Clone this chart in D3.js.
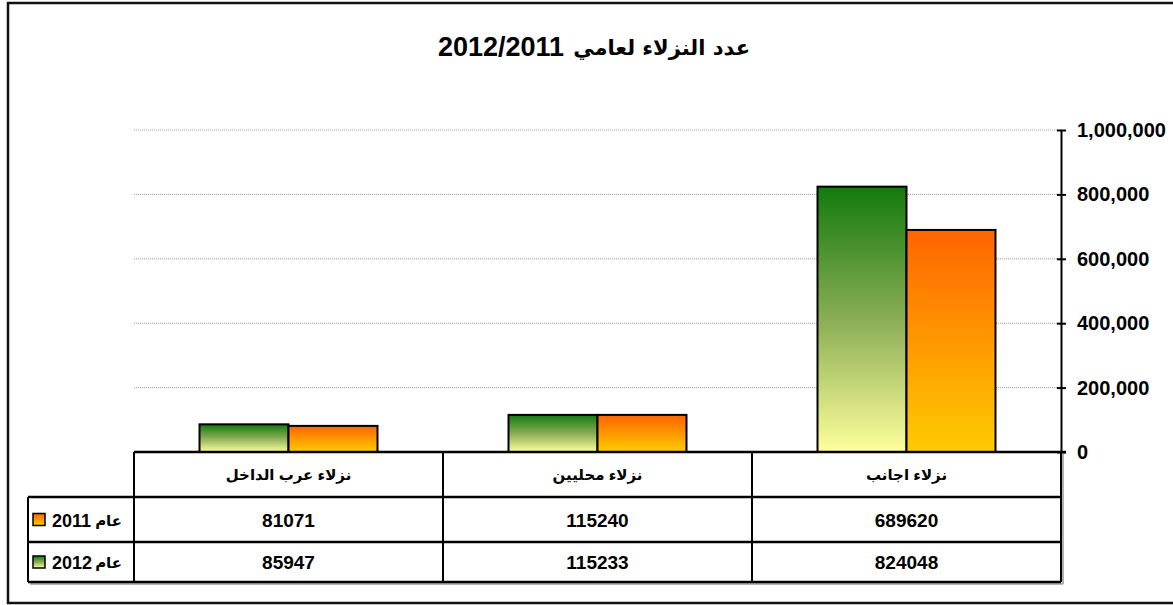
<!DOCTYPE html>
<html>
<head>
<meta charset="utf-8">
<script src="https://cdn.jsdelivr.net/npm/d3@7"></script>
<style>
  body { margin: 0; background: #fff; }
  svg text { font-family: "Liberation Sans", Arial, "DejaVu Sans", sans-serif; font-weight: bold; }
</style>
</head>
<body>
<div id="chart"></div>
<script>
const width = 1173;
const height = 605;

// data, left to right as drawn
const categories = ["نزلاء عرب الداخل", "نزلاء محليين", "نزلاء اجانب"];
const series = ["2012", "2011"];          // bar order inside a group
const seriesWord = "عام";
const values2011 = [81071, 115240, 689620];
const values2012 = [85947, 115233, 824048];
const yTicks = [0, 200000, 400000, 600000, 800000, 1000000];
const tableRows = ["2011", "2012"];
const titleWords = "عدد النزلاء لعامي";
const titleYears = "2012/2011";

const valuesBy = { "2011": values2011, "2012": values2012 };

// plot geometry
const plotLeft = 134, plotRight = 1061;
const plotTop = 130, plotBottom = 452;
const rowH = [45, 45, 40];
const legendLeft = 28;

const svg = d3.select("#chart")
    .append("svg")
    .attr("width", width)
    .attr("height", height);

// gradients
const defs = svg.append("defs");
const grads = {
    "2012": ["#137a0e", "#8aad55", "#ffff9c"],
    "2011": ["#ff6400", "#ff9800", "#ffcc00"]
};
Object.entries(grads).forEach(([k, c]) => {
    const g = defs.append("linearGradient")
        .attr("id", "g" + k)
        .attr("x1", 0).attr("y1", 0).attr("x2", 0).attr("y2", 1);
    g.selectAll("stop")
        .data(c)
        .join("stop")
        .attr("offset", (d, i) => i / (c.length - 1))
        .attr("stop-color", d => d);
});

// outer frame
svg.append("rect")
    .attr("x", 8).attr("y", 3)
    .attr("width", 1180).attr("height", 600)
    .attr("fill", "none")
    .attr("stroke", "#111")
    .attr("stroke-width", 2.5);

// title: years on the left, words on the right (rtl reading)
const tYears = svg.append("text")
    .attr("y", 56)
    .style("font-size", "27px")
    .text(titleYears);
const tWords = svg.append("text")
    .attr("y", 55)
    .style("font-size", "21px")
    .style("font-family", "\"DejaVu Sans\", sans-serif")
    .text(titleWords);
const wY = tYears.node().getComputedTextLength();
const wW = tWords.node().getComputedTextLength();
const gap = 9;
const tStart = 594 - (wY + gap + wW) / 2;
tYears.attr("x", tStart);
tWords.attr("x", tStart + wY + gap);

// scales
const x0 = d3.scaleBand()
    .domain(categories)
    .range([plotLeft, plotRight])
    .paddingInner(0.424)
    .paddingOuter(0.212);

const x1 = d3.scaleBand()
    .domain(series)
    .range([0, x0.bandwidth()]);

const y = d3.scaleLinear()
    .domain([0, 1000000])
    .range([plotBottom, plotTop]);

// gridlines
svg.append("g")
    .selectAll("line")
    .data(yTicks.filter(d => d > 0))
    .join("line")
    .attr("x1", plotLeft).attr("x2", plotRight)
    .attr("y1", d => y(d)).attr("y2", d => y(d))
    .attr("stroke", "#9a9a9a")
    .attr("stroke-width", 1)
    .attr("stroke-dasharray", "1,1");

// bars
const groups = svg.append("g")
    .selectAll("g")
    .data(categories)
    .join("g")
    .attr("transform", d => `translate(${x0(d)},0)`);

groups.selectAll("rect")
    .data((c, i) => series.map(s => ({ s, v: valuesBy[s][i] })))
    .join("rect")
    .attr("x", d => x1(d.s))
    .attr("y", d => y(d.v))
    .attr("width", x1.bandwidth())
    .attr("height", d => y(0) - y(d.v))
    .attr("fill", d => `url(#g${d.s})`)
    .attr("stroke", "#000")
    .attr("stroke-width", 2);

// y axis on the right
const yAxis = svg.append("g")
    .attr("transform", `translate(${plotRight},0)`)
    .call(d3.axisRight(y)
        .tickValues(yTicks)
        .tickSizeInner(5)
        .tickSizeOuter(0)
        .tickPadding(11)
        .tickFormat(d3.format(",")));
yAxis.select(".domain").attr("stroke", "#000").attr("stroke-width", 2);
yAxis.selectAll(".tick line").attr("stroke", "#000").attr("stroke-width", 2)
    .attr("x1", -4);
yAxis.selectAll(".tick text")
    .attr("fill", "#000")
    .style("font-size", "20px")
    .style("font-family", "\"Liberation Sans\", Arial, sans-serif")
    .style("font-weight", "bold");

// data table
const rowY = [plotBottom];
rowH.forEach(h => rowY.push(rowY[rowY.length - 1] + h));
const table = svg.append("g");
const lineCol = "#000";

// shadow
table.append("line")
    .attr("x1", legendLeft + 2).attr("x2", plotRight + 2)
    .attr("y1", rowY[3] + 2).attr("y2", rowY[3] + 2)
    .attr("stroke", "#999").attr("stroke-width", 1.5);
table.append("line")
    .attr("x1", plotRight + 2).attr("x2", plotRight + 2)
    .attr("y1", plotBottom + 2).attr("y2", rowY[3] + 2)
    .attr("stroke", "#999").attr("stroke-width", 1.5);

// horizontal rules
table.append("line")
    .attr("x1", plotLeft).attr("x2", plotRight + 5)
    .attr("y1", rowY[0]).attr("y2", rowY[0])
    .attr("stroke", lineCol).attr("stroke-width", 2.5);
[1, 2, 3].forEach(i => {
    table.append("line")
        .attr("x1", legendLeft).attr("x2", plotRight)
        .attr("y1", rowY[i]).attr("y2", rowY[i])
        .attr("stroke", lineCol).attr("stroke-width", 2.5);
});
// vertical rules
const colEdges = categories.map(c => x0(c) - x0.step() * x0.paddingInner() / 2);
colEdges.push(plotRight);
colEdges.forEach(xv => {
    table.append("line")
        .attr("x1", xv).attr("x2", xv)
        .attr("y1", rowY[0]).attr("y2", rowY[3])
        .attr("stroke", lineCol).attr("stroke-width", 2);
});
table.append("line")
    .attr("x1", legendLeft).attr("x2", legendLeft)
    .attr("y1", rowY[1]).attr("y2", rowY[3])
    .attr("stroke", lineCol).attr("stroke-width", 2);

// header text
table.selectAll("text.cat")
    .data(categories)
    .join("text")
    .attr("class", "cat")
    .attr("x", d => x0(d) + x0.bandwidth() / 2)
    .attr("y", (rowY[0] + rowY[1]) / 2 + 5)
    .attr("text-anchor", "middle")
    .attr("direction", "rtl")
    .style("font-size", "15px")
    .text(d => d);

// value rows
tableRows.forEach((s, r) => {
    const cy = (rowY[r + 1] + rowY[r + 2]) / 2;
    table.selectAll(`text.v${s}`)
        .data(valuesBy[s])
        .join("text")
        .attr("class", `v${s}`)
        .attr("x", (d, i) => x0(categories[i]) + x0.bandwidth() / 2)
        .attr("y", cy + 7)
        .attr("text-anchor", "middle")
        .style("font-size", "19px")
        .text(d => d);

    table.append("rect")
        .attr("x", 33).attr("y", cy - 6)
        .attr("width", 12).attr("height", 12)
        .attr("fill", `url(#g${s})`)
        .attr("stroke", "#000")
        .attr("stroke-width", 1.5);

    table.append("text")
        .attr("x", 52)
        .attr("y", cy + 7)
        .style("font-size", "18px")
        .text(s);
    table.append("text")
        .attr("x", 122)
        .attr("y", cy + 6)
        .attr("text-anchor", "end")
        .style("font-size", "15px")
        .style("font-family", "\"DejaVu Sans\", sans-serif")
        .text(seriesWord);
});
</script>
</body>
</html>
